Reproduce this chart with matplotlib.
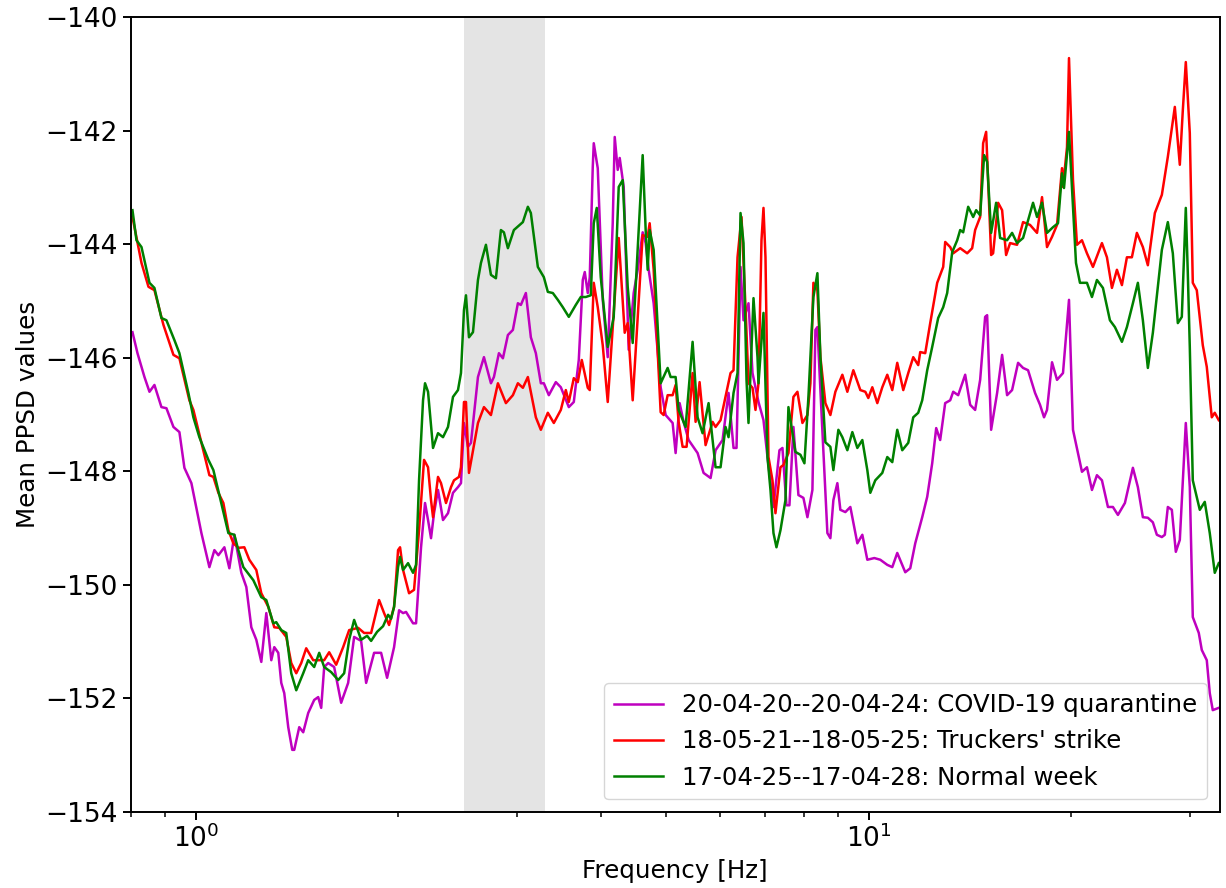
import matplotlib
matplotlib.use("Agg")
from matplotlib import pyplot as plt

# mean PPSD curves (frequency in Hz, values in dB)
freq_covid = [0.8049, 0.8188, 0.8386, 0.8531, 0.8677, 0.8887, 0.9041, 0.9260, 0.9451, 0.9614,
              0.9847, 1.0190, 1.0472, 1.0653, 1.0799, 1.1023, 1.1213, 1.1406, 1.1682, 1.1883,
              1.2088, 1.2296, 1.2508, 1.2724, 1.2943, 1.3076, 1.3256, 1.3392, 1.3530, 1.3716,
              1.3905, 1.4000, 1.4242, 1.4437, 1.4686, 1.4990, 1.5196, 1.5353, 1.5511, 1.5724,
              1.6050, 1.6438, 1.6836, 1.7185, 1.7601, 1.7905, 1.8400, 1.8846, 1.9236, 1.9701,
              2.0041, 2.0317, 2.0526, 2.1024, 2.1240, 2.1606, 2.1903, 2.2129, 2.2357, 2.2587,
              2.2897, 2.3292, 2.3693, 2.4102, 2.4517, 2.4770, 2.5025, 2.5369, 2.5631, 2.6251,
              2.6795, 2.7443, 2.7725, 2.8203, 2.8591, 2.9083, 2.9584, 3.0094, 3.0404, 3.0927,
              3.1460, 3.2002, 3.2554, 3.2889, 3.3455, 3.4266, 3.4857, 3.5823, 3.6440, 3.7067,
              3.7577, 3.7834, 3.8224, 3.8486, 3.8882, 3.9015, 3.9553, 4.0234, 4.0927, 4.1632,
              4.1918, 4.2350, 4.2640, 4.3226, 4.3971, 4.4728, 4.5343, 4.6124, 4.6600, 4.7080,
              4.7892, 4.9051, 4.9897, 5.1104, 5.1629, 5.2341, 5.3061, 5.3974, 5.5660, 5.6813,
              5.8188, 5.9191, 6.0624, 6.1878, 6.2944, 6.3592, 6.4467, 6.5131, 6.6253, 6.7166,
              6.8556, 6.9737, 7.0697, 7.2161, 7.3655, 7.4414, 7.5436, 7.6213, 7.7262, 7.8593,
              7.9950, 8.1050, 8.2447, 8.3297, 8.3867, 8.4731, 8.6781, 8.7675, 8.8578, 8.9795,
              9.0721, 9.2284, 9.3875, 9.6147, 9.7804, 9.9489, 10.190, 10.400, 10.652, 10.836,
              11.022, 11.212, 11.328, 11.523, 11.722, 12.005, 12.212, 12.422, 12.593, 12.766,
              12.986, 13.211, 13.347, 13.577, 13.906, 14.145, 14.388, 14.637, 14.889, 14.991,
              15.197, 15.512, 15.779, 16.050, 16.327, 16.665, 16.952, 17.244, 17.661, 17.965,
              18.213, 18.400, 18.718, 19.040, 19.434, 19.837, 20.110, 20.737, 21.094, 21.458,
              21.827, 22.204, 22.664, 23.054, 23.452, 24.019, 24.685, 25.109, 25.542, 25.982,
              26.430, 26.794, 27.256, 27.537, 27.820, 28.203, 28.591, 28.984, 29.584, 29.991,
              30.300, 30.928, 31.247, 31.785, 32.112, 32.443, 33.115]
psd_covid = [-145.55, -145.92, -146.34, -146.60, -146.48, -146.87, -146.89, -147.22, -147.31, -147.94,
             -148.21, -149.09, -149.69, -149.39, -149.48, -149.34, -149.71, -149.12, -149.79, -150.04,
             -150.75, -150.97, -151.36, -150.50, -151.33, -151.10, -151.20, -151.73, -151.91, -152.51,
             -152.91, -152.91, -152.51, -152.60, -152.26, -152.03, -151.98, -152.17, -151.45, -151.38,
             -151.45, -152.08, -151.73, -150.92, -150.99, -151.73, -151.20, -151.20, -151.64, -151.10,
             -150.45, -150.50, -150.48, -150.68, -150.68, -149.34, -148.56, -148.86, -149.18, -148.74,
             -148.33, -148.86, -148.74, -148.38, -148.28, -148.21, -147.15, -147.57, -147.50, -146.34,
             -145.99, -146.45, -146.34, -145.92, -146.01, -145.60, -145.51, -145.04, -145.07, -144.86,
             -145.64, -145.92, -146.45, -146.45, -146.66, -146.43, -146.52, -146.87, -146.78, -146.04,
             -144.63, -144.49, -144.86, -144.58, -142.64, -142.22, -142.66, -144.98, -145.99, -143.63,
             -142.11, -142.69, -142.48, -142.99, -145.86, -144.86, -144.45, -143.79, -143.98, -144.45,
             -145.04, -146.52, -147.01, -147.15, -147.68, -146.80, -147.13, -147.45, -147.68, -148.03,
             -148.12, -147.63, -147.45, -146.62, -147.59, -147.59, -144.40, -145.34, -145.04, -146.27,
             -146.78, -147.10, -147.75, -148.63, -147.63, -147.59, -148.60, -148.60, -147.22, -148.42,
             -148.47, -148.81, -148.33, -145.51, -145.46, -146.57, -149.09, -149.18, -148.51, -148.21,
             -148.68, -148.72, -148.63, -149.27, -149.12, -149.56, -149.53, -149.56, -149.65, -149.69,
             -149.44, -149.65, -149.78, -149.71, -149.27, -148.81, -148.45, -147.86, -147.24, -147.45,
             -146.80, -146.75, -146.60, -146.66, -146.30, -146.83, -146.92, -146.39, -145.28, -145.25,
             -147.27, -146.62, -145.95, -146.66, -146.57, -146.09, -146.18, -146.22, -146.62, -146.83,
             -147.05, -146.92, -146.08, -146.39, -146.27, -144.98, -147.27, -148.01, -147.93, -148.33,
             -148.07, -148.16, -148.63, -148.63, -148.77, -148.56, -147.94, -148.28, -148.81, -148.82,
             -148.90, -149.12, -149.16, -149.12, -148.63, -148.68, -149.42, -149.21, -147.15, -148.28,
             -150.57, -150.85, -151.15, -151.33, -151.91, -152.21, -152.17]

freq_strike = [0.8049, 0.8301, 0.8502, 0.8677, 0.8948, 0.9260, 0.9451, 0.9779, 0.9914, 1.0190,
               1.0472, 1.0616, 1.0799, 1.0985, 1.1175, 1.1367, 1.1563, 1.1802, 1.2006, 1.2296,
               1.2508, 1.2811, 1.3076, 1.3301, 1.3623, 1.3858, 1.4097, 1.4339, 1.4586, 1.4939,
               1.5249, 1.5511, 1.5778, 1.6160, 1.6551, 1.6894, 1.7422, 1.7782, 1.8213, 1.8717,
               1.9040, 1.9367, 1.9701, 1.9972, 2.0109, 2.0317, 2.0738, 2.1095, 2.1459, 2.1829,
               2.2129, 2.2357, 2.2510, 2.2897, 2.3133, 2.3532, 2.3938, 2.4185, 2.4601, 2.4770,
               2.5025, 2.5197, 2.5456, 2.6251, 2.6795, 2.7443, 2.8107, 2.8885, 2.9584, 3.0094,
               3.0613, 3.1140, 3.2002, 3.2554, 3.3341, 3.4033, 3.4857, 3.5458, 3.5823, 3.6440,
               3.6941, 3.7449, 3.8224, 3.8486, 3.9015, 3.9553, 4.0234, 4.0927, 4.1775, 4.2495,
               4.3374, 4.3821, 4.4576, 4.5343, 4.6124, 4.6919, 4.7241, 4.7892, 4.9051, 4.9557,
               5.0239, 5.1104, 5.1629, 5.2162, 5.2880, 5.3606, 5.4717, 5.5281, 5.6041, 5.7202,
               5.8587, 5.9191, 6.0210, 6.2302, 6.2944, 6.3809, 6.4687, 6.5578, 6.6253, 6.7166,
               6.7857, 6.8556, 6.9262, 6.9737, 7.0216, 7.0939, 7.1915, 7.2654, 7.3907, 7.4668,
               7.5953, 7.7262, 7.8326, 7.9678, 8.1050, 8.1885, 8.2729, 8.3867, 8.4731, 8.6188,
               8.7675, 8.9184, 9.1342, 9.2916, 9.4842, 9.7137, 9.8812, 9.9829, 10.120, 10.295,
               10.472, 10.652, 10.836, 11.022, 11.251, 11.445, 11.642, 11.842, 11.923, 12.129,
               12.338, 12.636, 12.898, 12.987, 13.211, 13.347, 13.670, 14.001, 14.242, 14.388,
               14.637, 14.787, 14.940, 15.042, 15.197, 15.301, 15.565, 15.779, 15.996, 16.216,
               16.608, 16.952, 17.362, 17.782, 18.088, 18.400, 18.718, 19.040, 19.368, 19.434,
               19.702, 19.837, 20.110, 20.386, 20.737, 21.094, 21.531, 22.204, 22.587, 22.976,
               23.372, 23.775, 24.184, 24.600, 25.024, 25.542, 25.982, 26.612, 27.256, 27.820,
               28.493, 28.984, 29.283, 29.584, 29.991, 30.300, 30.717, 31.354, 31.785, 32.333,
               32.666, 33.115]
psd_strike = [-143.52, -144.33, -144.75, -144.81, -145.42, -145.95, -146.01, -146.75, -146.92, -147.50,
              -148.07, -148.10, -148.38, -148.56, -149.04, -149.27, -149.35, -149.34, -149.56, -149.74,
              -150.15, -150.39, -150.75, -150.76, -150.92, -151.38, -151.56, -151.38, -151.12, -151.33,
              -151.33, -151.33, -151.19, -151.41, -151.10, -150.80, -150.76, -150.85, -150.85, -150.27,
              -150.50, -150.71, -150.39, -149.39, -149.34, -149.74, -150.15, -150.09, -149.04, -147.80,
              -147.93, -148.51, -148.81, -148.10, -148.21, -148.56, -148.28, -148.16, -148.10, -147.93,
              -146.78, -146.78, -148.03, -147.15, -146.87, -147.01, -146.45, -146.80, -146.66, -146.45,
              -146.53, -146.34, -147.05, -147.27, -146.97, -147.15, -146.92, -146.57, -146.78, -146.36,
              -146.43, -146.04, -146.53, -146.57, -144.68, -145.11, -145.78, -146.78, -145.21, -143.89,
              -145.56, -145.39, -146.75, -145.28, -143.84, -143.87, -143.63, -144.45, -146.96, -147.01,
              -146.66, -146.66, -146.48, -147.13, -147.57, -147.57, -146.27, -147.13, -146.43, -147.54,
              -147.13, -147.22, -147.10, -146.27, -146.22, -144.23, -143.52, -145.11, -146.45, -146.53,
              -146.92, -146.45, -143.93, -143.36, -144.23, -147.75, -148.16, -148.74, -147.93, -147.89,
              -147.68, -146.69, -146.60, -147.15, -147.01, -146.45, -144.68, -144.81, -145.99, -146.80,
              -147.01, -146.60, -146.30, -146.60, -146.22, -146.57, -146.60, -146.71, -146.52, -146.80,
              -146.52, -146.30, -146.57, -146.09, -146.57, -146.27, -145.99, -146.13, -145.90, -145.92,
              -145.39, -144.68, -144.40, -143.96, -144.05, -144.16, -144.07, -144.16, -144.07, -143.75,
              -143.52, -142.22, -142.02, -142.87, -144.19, -144.16, -143.27, -143.40, -144.19, -143.98,
              -144.01, -143.61, -143.66, -143.80, -143.17, -144.05, -143.87, -143.66, -142.66, -142.99,
              -142.29, -140.72, -142.87, -144.01, -143.93, -144.16, -144.40, -143.98, -144.23, -144.77,
              -144.45, -144.72, -144.23, -144.23, -143.80, -144.05, -144.37, -143.45, -143.13, -142.46,
              -141.58, -142.60, -141.64, -140.79, -142.04, -144.68, -144.81, -145.78, -146.16, -147.05,
              -146.97, -147.10]

freq_normal = [0.8049, 0.8160, 0.8301, 0.8531, 0.8677, 0.8887, 0.9041, 0.9291, 0.9451, 0.9746,
               0.9914, 1.0119, 1.0437, 1.0616, 1.0836, 1.1175, 1.1406, 1.1563, 1.1762, 1.2171,
               1.2508, 1.2724, 1.3032, 1.3165, 1.3392, 1.3623, 1.3858, 1.4097, 1.4437, 1.4686,
               1.4990, 1.5249, 1.5511, 1.5886, 1.6271, 1.6608, 1.6894, 1.7185, 1.7601, 1.7966,
               1.8213, 1.8590, 1.8975, 1.9301, 1.9500, 1.9701, 1.9972, 2.0109, 2.0317, 2.0667,
               2.1024, 2.1240, 2.1459, 2.1754, 2.1903, 2.2129, 2.2510, 2.2897, 2.3292, 2.3693,
               2.4102, 2.4517, 2.4770, 2.5025, 2.5197, 2.5456, 2.5807, 2.6251, 2.6521, 2.6978,
               2.7443, 2.7916, 2.8396, 2.8688, 2.9083, 2.9685, 3.0613, 3.1140, 3.1460, 3.2221,
               3.2889, 3.3341, 3.3917, 3.4501, 3.5096, 3.5823, 3.6688, 3.7321, 3.7964, 3.8618,
               3.9015, 3.9418, 3.9960, 4.0927, 4.1775, 4.2495, 4.3079, 4.3821, 4.4576, 4.6124,
               4.6600, 4.6919, 4.7241, 4.7892, 4.9051, 5.0239, 5.0756, 5.1629, 5.2162, 5.3424,
               5.4717, 5.5660, 5.6620, 5.7792, 5.9191, 6.0210, 6.1246, 6.1878, 6.2944, 6.3809,
               6.4467, 6.5131, 6.5802, 6.6253, 6.7395, 6.8322, 6.8556, 6.9737, 7.0697, 7.1425,
               7.2161, 7.2904, 7.3907, 7.5179, 7.5953, 7.7792, 7.9135, 8.0224, 8.1328, 8.2729,
               8.3867, 8.4731, 8.6188, 8.7675, 8.8578, 9.0102, 9.1342, 9.2916, 9.4519, 9.6147,
               9.7804, 9.9489, 10.051, 10.224, 10.472, 10.652, 10.836, 11.022, 11.212, 11.445,
               11.642, 11.842, 12.005, 12.212, 12.422, 12.679, 12.898, 13.075, 13.302, 13.531,
               13.670, 13.811, 14.049, 14.291, 14.438, 14.637, 14.838, 14.991, 15.197, 15.459,
               15.671, 16.050, 16.327, 16.608, 16.952, 17.541, 17.782, 18.088, 18.400, 18.781,
               19.105, 19.368, 19.501, 19.837, 20.110, 20.317, 20.596, 21.094, 21.458, 21.827,
               22.280, 22.819, 23.213, 23.775, 24.184, 24.685, 25.109, 25.542, 25.982, 26.430,
               26.886, 27.256, 27.820, 28.299, 28.787, 29.183, 29.584, 29.787, 29.991, 30.300,
               31.034, 31.568, 32.112, 32.666, 33.115]
psd_normal = [-143.40, -143.93, -144.05, -144.68, -144.77, -145.30, -145.34, -145.69, -145.92, -146.62,
              -147.05, -147.40, -147.80, -147.98, -148.42, -149.09, -149.12, -149.39, -149.69, -149.92,
              -150.22, -150.27, -150.68, -150.66, -150.80, -150.85, -151.56, -151.86, -151.56, -151.33,
              -151.45, -151.20, -151.45, -151.54, -151.68, -151.56, -150.97, -150.62, -150.97, -150.90,
              -150.99, -150.83, -150.73, -150.53, -150.60, -150.39, -149.69, -149.51, -149.74, -149.62,
              -149.79, -149.65, -148.16, -146.75, -146.45, -146.60, -147.59, -147.33, -147.40, -147.22,
              -146.69, -146.57, -146.27, -145.16, -144.90, -145.64, -145.55, -144.63, -144.33, -144.01,
              -144.54, -144.60, -143.75, -143.79, -144.07, -143.75, -143.61, -143.34, -143.45, -144.40,
              -144.58, -144.84, -144.86, -144.98, -145.11, -145.28, -145.07, -144.93, -144.93, -144.90,
              -143.63, -143.36, -144.58, -145.81, -145.28, -142.99, -142.87, -144.75, -145.74, -142.43,
              -143.75, -144.45, -143.75, -144.10, -146.45, -146.18, -146.34, -146.34, -146.92, -147.22,
              -145.72, -147.05, -147.33, -146.80, -147.93, -147.93, -147.22, -147.40, -146.62, -146.27,
              -143.45, -143.98, -146.39, -147.15, -144.95, -145.99, -146.45, -145.21, -147.75, -148.33,
              -149.09, -149.34, -149.04, -148.51, -146.87, -147.66, -147.71, -147.86, -146.69, -144.93,
              -144.51, -145.99, -147.49, -147.57, -147.98, -147.27, -147.40, -147.63, -147.31, -147.59,
              -147.45, -147.98, -148.38, -148.16, -148.03, -147.75, -147.84, -147.27, -147.63, -147.50,
              -147.05, -146.97, -146.75, -146.22, -145.81, -145.30, -145.11, -144.86, -144.14, -143.93,
              -143.75, -143.79, -143.34, -143.52, -143.40, -143.49, -142.43, -142.55, -143.80, -143.27,
              -143.89, -143.93, -143.80, -143.98, -143.89, -143.27, -143.52, -143.27, -143.80, -143.70,
              -143.63, -142.75, -143.01, -142.02, -143.34, -144.33, -144.68, -144.68, -144.93, -144.63,
              -144.77, -145.34, -145.46, -145.72, -145.46, -145.04, -144.68, -145.34, -146.18, -145.56,
              -144.75, -144.10, -143.61, -144.16, -145.39, -145.28, -143.36, -144.51, -145.81, -148.16,
              -148.68, -148.54, -149.09, -149.79, -149.62]

labels = ["20-04-20--20-04-24: COVID-19 quarantine",
          "18-05-21--18-05-25: Truckers' strike",
          "17-04-25--17-04-28: Normal week"]

band = (2.5, 3.3)

fig = plt.figure(figsize=(12.26, 8.88), dpi=100)
ax = fig.add_axes([0.1066, 0.0859, 0.8881, 0.8947])

ax.axvspan(band[0], band[1], color="lightgray", alpha=0.6, lw=0)
ax.plot(freq_covid, psd_covid, color="m", lw=1.8, label=labels[0])
ax.plot(freq_strike, psd_strike, color="r", lw=1.8, label=labels[1])
ax.plot(freq_normal, psd_normal, color="g", lw=1.8, label=labels[2])

ax.set_xscale("log")
ax.set_xlim(0.8, 33.2)
ax.set_ylim(-154, -140)
ax.set_xlabel("Frequency [Hz]", fontsize=17.7)
ax.set_ylabel("Mean PPSD values", fontsize=17.7)
ax.tick_params(which="major", labelsize=19, length=6, width=1.4)
ax.tick_params(which="minor", length=3.5, width=1.1)
for s in ax.spines.values():
    s.set_linewidth(1.4)
ax.legend(loc="lower right", fontsize=17.6)

fig.savefig("out.png", dpi=100)
